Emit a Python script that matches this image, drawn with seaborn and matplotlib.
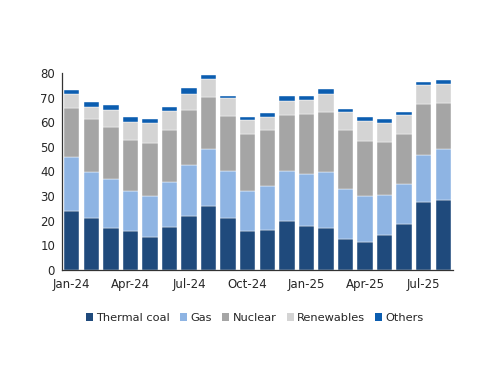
import numpy as np
import pandas as pd
import seaborn as sns
import matplotlib.pyplot as plt
from matplotlib.patches import Patch

# --- data (monthly generation by source) ---
months = ["Jan-24", "Feb-24", "Mar-24", "Apr-24", "May-24", "Jun-24", "Jul-24",
          "Aug-24", "Sep-24", "Oct-24", "Nov-24", "Dec-24", "Jan-25", "Feb-25",
          "Mar-25", "Apr-25", "May-25", "Jun-25", "Jul-25", "Aug-25"]
thermal_coal = [24.0, 21.0, 17.1, 15.7, 13.4, 17.5, 21.8, 25.9, 20.9, 15.7,
                16.1, 19.8, 17.7, 17.1, 12.7, 11.3, 14.3, 18.8, 27.6, 28.4]
gas = [21.7, 18.8, 19.9, 16.5, 16.5, 18.2, 20.8, 23.2, 19.3, 16.4,
       18.1, 20.4, 21.3, 22.7, 20.0, 18.7, 16.1, 15.9, 19.1, 20.6]
nuclear = [20.1, 21.3, 21.1, 20.5, 21.5, 21.1, 22.2, 21.0, 22.3, 23.0,
           22.6, 22.6, 24.2, 24.5, 24.1, 22.3, 21.6, 20.3, 20.6, 18.8]
renewables = [5.6, 5.2, 7.0, 7.5, 8.2, 7.6, 6.8, 7.4, 7.5, 5.7,
              5.4, 5.8, 5.8, 7.3, 7.3, 8.1, 7.8, 7.8, 7.9, 7.8]
others = [1.7, 1.8, 1.7, 1.7, 1.7, 1.6, 2.1, 1.8, 0.7, 1.5,
          1.6, 1.9, 1.8, 1.7, 1.4, 1.5, 1.6, 1.2, 1.3, 1.5]

series = {"Thermal coal": thermal_coal, "Gas": gas, "Nuclear": nuclear,
          "Renewables": renewables, "Others": others}
colors = {"Thermal coal": "#1f4a7c", "Gas": "#8eb4e3", "Nuclear": "#a5a5a5",
          "Renewables": "#d4d4d4", "Others": "#0b5db0"}

df = pd.DataFrame(series)
df["Month"] = months

sns.set_style("white")
plt.rcParams["font.family"] = ["DejaVu Sans"]
plt.rcParams["font.size"] = 8.5

fig = plt.figure(figsize=(5.0, 3.86), dpi=100)
ax = fig.add_axes([0.124, 0.301, 0.782, 0.510])

# stacked bars, one seaborn call per source
bottom = np.zeros(len(months))
for name in series:
    sns.barplot(data=df, x="Month", y=name, bottom=bottom, color=colors[name],
                width=0.79, saturation=1, edgecolor="white", linewidth=0.3, ax=ax)
    bottom += df[name].to_numpy()

ax.set_ylim(0, 80)
ax.set_xlim(-0.5, 19.5)
ax.set_yticks(range(0, 81, 10))
ax.set_xlabel("")
ax.set_ylabel("")

# tick marks sit between categories, labels centred on bars
ax.set_xticks(np.arange(-0.5, 19, 3))
ax.set_xticklabels([])
ax.set_xticks(np.arange(0, 20, 3), minor=True)
ax.set_xticklabels(months[::3], minor=True)
ax.tick_params(axis="x", which="major", direction="out", length=4, width=0.8, color="#333333")
ax.tick_params(axis="x", which="minor", length=0, pad=6)
ax.tick_params(axis="y", direction="out", length=3, width=0.8, color="#333333", pad=2)

for side in ["top", "right"]:
    ax.spines[side].set_visible(False)
for side in ["left", "bottom"]:
    ax.spines[side].set_color("#333333")
    ax.spines[side].set_linewidth(0.9)

handles = [Patch(facecolor=colors[n], edgecolor="none", label=n) for n in series]
fig.legend(handles=handles, loc="center", bbox_to_anchor=(0.51, 0.176), ncol=5,
           frameon=False, handlelength=0.6, handleheight=0.6, handletextpad=0.3,
           columnspacing=0.9, fontsize=8.2)

fig.savefig("out.png", dpi=100)
